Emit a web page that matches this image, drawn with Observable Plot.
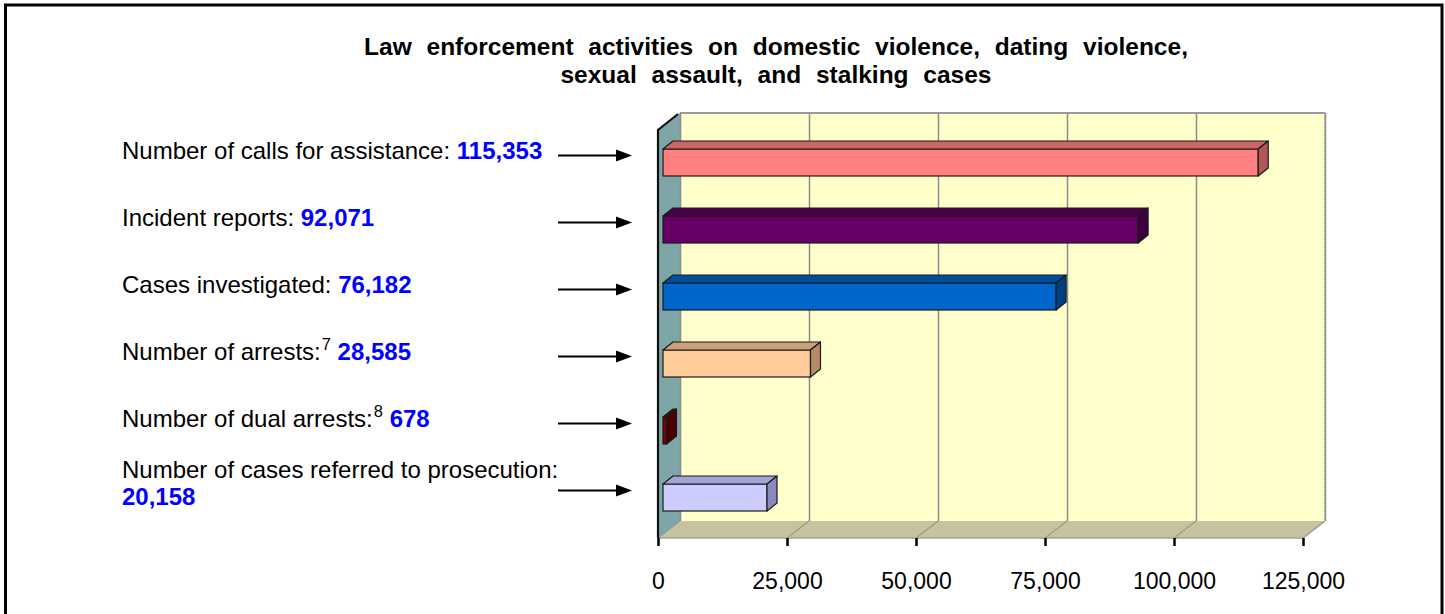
<!DOCTYPE html>
<html>
<head>
<meta charset="utf-8">
<script src="https://cdn.jsdelivr.net/npm/d3@7"></script>
<script src="https://cdn.jsdelivr.net/npm/@observablehq/plot@0.6"></script>
<style>
  html, body { margin: 0; padding: 0; background: #fff; }
  #chart { width: 1445px; height: 614px; overflow: hidden; }
</style>
</head>
<body>
<div id="chart"></div>
<script>
// ---------------- data ----------------
const categories = [
  "Calls for assistance",
  "Incident reports",
  "Cases investigated",
  "Arrests",
  "Dual arrests",
  "Cases referred to prosecution"
];
const values = [115353, 92071, 76182, 28585, 678, 20158];
const labelTexts = [
  "Number of calls for assistance:",
  "Incident reports:",
  "Cases investigated:",
  "Number of arrests:",
  "Number of dual arrests:",
  "Number of cases referred to prosecution:\n"
];
const footnotes = ["", "", "", "7", "8", ""];
const xTicks = [0, 25000, 50000, 75000, 100000, 125000];
const titleLines = [
  "Law enforcement activities on domestic violence, dating violence,",
  "sexual assault, and stalking cases"
];

// ---------------- styles ----------------
const frontColors = ["#FF8080", "#660066", "#0066CC", "#FFCC99", "#800000", "#CCCCFF"];
const topColors   = ["#CC6666", "#4C004C", "#004F9E", "#C9A07A", "#600000", "#A3A3D6"];
const sideColors  = ["#B05858", "#3D003D", "#004080", "#B48B66", "#4A0000", "#8A8ABD"];

const FONT = "'Liberation Sans', Arial, Helvetica, sans-serif";
const DEPTH_X = 22, DEPTH_Y = 17;     // box depth (pixels)
const WALL_TOP = 113;                 // top of back wall
const BAR_DX = 5;                     // bar front plane offset
const BAR_DEPTH_X = 10, BAR_DEPTH_Y = 8;

const rows = categories.map((c, i) => ({
  category: c, value: values[i], label: labelTexts[i], note: footnotes[i], i
}));
const fmt = d3.format(",");

const bandwidthOf = (scales) =>
  (scales.y && scales.y.bandwidth) ? scales.y.bandwidth() : scales.scales.y.bandwidth;

// 3-D box: back wall, floor, left wall
const box = (index, scales, vals, dims) => {
  const g = d3.create("svg:g");
  const xa = scales.x(0), xb = scales.x(xTicks[xTicks.length - 1]);
  const yb = dims.height - dims.marginBottom;
  const yt = WALL_TOP;
  // back wall
  g.append("rect").attr("x", xa + DEPTH_X).attr("y", yt)
    .attr("width", xb - xa).attr("height", yb - DEPTH_Y - yt)
    .attr("fill", "#FFFFCC");
  g.append("line").attr("x1", xa + DEPTH_X).attr("x2", xb + DEPTH_X)
    .attr("y1", yt).attr("y2", yt).attr("stroke", "#9a9a9a").attr("stroke-width", 2);
  g.append("line").attr("x1", xb + DEPTH_X).attr("x2", xb + DEPTH_X)
    .attr("y1", yt).attr("y2", yb - DEPTH_Y).attr("stroke", "#9a9a9a")
    .attr("stroke-width", 2).attr("stroke-dasharray", "1,1");
  // floor
  g.append("path")
    .attr("d", `M${xa},${yb}L${xa + DEPTH_X},${yb - DEPTH_Y}L${xb + DEPTH_X},${yb - DEPTH_Y}L${xb},${yb}Z`)
    .attr("fill", "#C6C4A0");
  for (const t of xTicks) {
    const x = scales.x(t);
    g.append("line").attr("x1", x).attr("y1", yb).attr("x2", x + DEPTH_X).attr("y2", yb - DEPTH_Y)
      .attr("stroke", "#9a9a8a").attr("stroke-width", 1.2);
  }
  g.append("line").attr("x1", xa).attr("x2", xb).attr("y1", yb).attr("y2", yb)
    .attr("stroke", "#a0a0a0").attr("stroke-width", 1.5);
  g.append("line").attr("x1", xb).attr("y1", yb).attr("x2", xb + DEPTH_X).attr("y2", yb - DEPTH_Y)
    .attr("stroke", "#a0a0a0").attr("stroke-width", 1.5).attr("stroke-dasharray", "1,1");
  // left wall
  g.append("path")
    .attr("d", `M${xa},${yb}L${xa},${yt + DEPTH_Y}L${xa + DEPTH_X},${yt}L${xa + DEPTH_X},${yb - DEPTH_Y}Z`)
    .attr("fill", "#7EA6A6");
  g.append("path")
    .attr("d", `M${xa},${yb}L${xa},${yt + DEPTH_Y}L${xa + DEPTH_X - 2},${yt + 1}`)
    .attr("fill", "none").attr("stroke", "#111").attr("stroke-width", 2.2);
  return g.node();
};

// top and side faces of the bars
const faces = (index, scales, vals, dims) => {
  const g = d3.create("svg:g");
  const bw = bandwidthOf(scales);
  for (const d of rows) {
    const xa = scales.x(0) + BAR_DX, xb = scales.x(d.value) + BAR_DX;
    const y0 = scales.y(d.category), y1 = y0 + bw;
    g.append("path")
      .attr("d", `M${xa},${y0}L${xa + BAR_DEPTH_X},${y0 - BAR_DEPTH_Y}L${xb + BAR_DEPTH_X},${y0 - BAR_DEPTH_Y}L${xb},${y0}Z`)
      .attr("fill", topColors[d.i]).attr("stroke", "#1a1a1a").attr("stroke-width", 1.2)
      .attr("stroke-linejoin", "round");
    g.append("path")
      .attr("d", `M${xb},${y0}L${xb + BAR_DEPTH_X},${y0 - BAR_DEPTH_Y}L${xb + BAR_DEPTH_X},${y1 - BAR_DEPTH_Y}L${xb},${y1}Z`)
      .attr("fill", sideColors[d.i]).attr("stroke", "#1a1a1a").attr("stroke-width", 1.2)
      .attr("stroke-linejoin", "round");
  }
  return g.node();
};

// left-hand labels with arrows, title, frame
const annotations = (index, scales, vals, dims) => {
  const g = d3.create("svg:g").attr("font-family", FONT).attr("text-anchor", "start");
  const bw = bandwidthOf(scales);
  const LX = 122, FS = 24, LH = 27;
  for (const d of rows) {
    const c = scales.y(d.category) + bw / 2;
    const twoLines = d.label.endsWith("\n");
    const shift = twoLines ? -15 : -12;
    const base = c + shift + (twoLines ? -LH / 2 : 0) + FS * 0.716 / 2;
    const t = g.append("text").attr("x", LX).attr("y", base).attr("font-size", FS)
      .attr("fill", "#000").attr("text-anchor", "start");
    t.append("tspan").text(d.label.replace("\n", "") + (d.note || twoLines ? "" : " "));
    if (d.note) {
      t.append("tspan").attr("font-size", 16.5).attr("dy", -10).attr("dx", 1).text(d.note);
      t.append("tspan").attr("dy", 10).text(" ");
    }
    const num = twoLines
      ? g.append("text").attr("x", LX).attr("y", base + LH).attr("font-size", FS).attr("text-anchor", "start")
      : t;
    num.append("tspan").attr("font-weight", "bold").attr("fill", "#0000FF").text(fmt(d.value));
    // arrow
    const ay = c - 7;
    g.append("line").attr("x1", 558).attr("x2", 619).attr("y1", ay).attr("y2", ay)
      .attr("stroke", "#000").attr("stroke-width", 2);
    g.append("path").attr("d", `M616,${ay - 6}L632,${ay}L616,${ay + 6}Z`).attr("fill", "#000");
  }
  // title
  const title = g.append("text").attr("text-anchor", "middle").attr("font-weight", "bold")
    .attr("font-size", 24.5).attr("fill", "#000").style("word-spacing", "8px");
  titleLines.forEach((line, k) => {
    title.append("tspan").attr("x", 776).attr("y", 55 + k * 27.5).text(line);
  });
  // outer frame
  g.append("rect").attr("x", 5.5).attr("y", 5).attr("width", 1436.5).attr("height", 700)
    .attr("fill", "none").attr("stroke", "#000").attr("stroke-width", 3);
  return g.node();
};

const chart = Plot.plot({
  width: 1445,
  height: 614,
  marginTop: 0,
  marginRight: 0,
  marginLeft: 0,
  marginBottom: 76,
  style: { fontFamily: FONT, background: "#fff", overflow: "visible" },
  x: { domain: [0, 125000], range: [658, 1303], label: null },
  y: { type: "band", domain: categories, range: [126.6, 533.4], paddingInner: 0.6, paddingOuter: 0.3, axis: null, label: null },
  color: { domain: categories, range: frontColors },
  marks: [
    box,
    Plot.ruleX(xTicks, { x: d => d, dx: DEPTH_X, insetTop: WALL_TOP, insetBottom: DEPTH_Y, stroke: "#8c8c8c", strokeWidth: 1.5 }),
    Plot.barX(rows, { x1: 0, x2: "value", y: "category", fill: "category", stroke: "#1a1a1a", strokeWidth: 1.2, dx: BAR_DX }),
    faces,
    Plot.axisX(xTicks, { tickFormat: fmt, tickSize: 8, tickPadding: 26, fontSize: 23, strokeWidth: 2.5, stroke: "#000", fill: "#000", label: null }),
    annotations
  ]
});
document.getElementById("chart").appendChild(chart);
</script>
</body>
</html>
